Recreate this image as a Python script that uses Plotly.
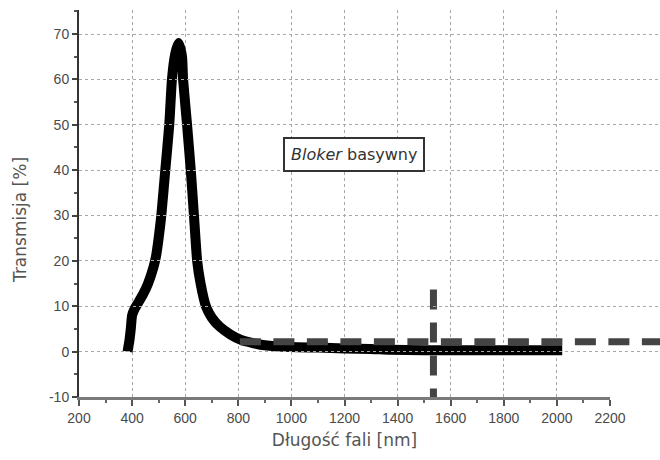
import plotly.graph_objects as go

# Transmission spectrum of the blocker (wavelength in nm, transmission in %)
wavelength = [383, 390, 395, 400, 410, 420, 440, 460, 480, 490, 500, 510, 525,
              540, 550, 562, 575, 588, 592, 607, 621, 633, 645, 658, 678, 700,
              730, 770, 810, 855, 900, 1000, 1100, 1200, 1300, 1370, 1500,
              1700, 1900, 2020]
transmission = [0, 2.5, 5, 8, 9.5, 10.5, 12.5, 15, 18.5, 21, 25, 30, 40,
                50, 60, 65.5, 68, 65, 60, 50, 40, 30, 20, 15, 10, 7.5,
                5.5, 3.8, 2.6, 1.9, 1.4, 1.0, 0.9, 0.7, 0.6, 0.4, 0.3,
                0.3, 0.3, 0.3]

# Reference level drawn as a dashed horizontal line
ref_level_x = [806, 2400]
ref_level_y = [2.2, 2.2]

# Marker of the 1535 nm wavelength
marker_x = [1535, 1535]
marker_y = [13.7, -10.5]

x_ticks = [200, 400, 600, 800, 1000, 1200, 1400, 1600, 1800, 2000, 2200]
y_ticks = [-10, 0, 10, 20, 30, 40, 50, 60, 70]

label_text = "<i>Bloker</i> basywny"
label_pos = (1236, 43.5)

W, H = 660, 460
ML, MR, MT, MB = 79, 0, 10, 63
plot_w = W - ML - MR
plot_h = H - MT - MB
main_w = 531  # pixel width of the 200-2200 nm axis
x_min, x_max = 200, 2200
wide_max = x_min + (x_max - x_min) * plot_w / main_w

ink = "#3a3a3a"
tick_font = dict(family="Liberation Sans, Arial, sans-serif", size=14, color="#4a4a4a")
title_font = dict(family="DejaVu Sans, sans-serif", size=17, color="#555")

fig = go.Figure()

fig.add_trace(go.Scatter(
    x=wavelength, y=transmission, mode="lines",
    line=dict(color="#000000", width=10, shape="spline", smoothing=0.5),
    showlegend=False))

fig.add_trace(go.Scatter(
    x=marker_x, y=marker_y, mode="lines",
    line=dict(color="#444444", width=7, dash="20px,13px"),
    showlegend=False, hoverinfo="skip"))

# wide overlay axis so the reference level runs past the end of the main axis
fig.add_trace(go.Scatter(
    x=ref_level_x, y=ref_level_y, xaxis="x2", yaxis="y",
    mode="lines", line=dict(color="#444444", width=7, dash="21px,12.5px"),
    showlegend=False, hoverinfo="skip"))

fig.update_layout(
    width=W, height=H,
    margin=dict(l=ML, r=MR, t=MT, b=MB, autoexpand=False),
    paper_bgcolor="white", plot_bgcolor="rgba(0,0,0,0)",
    font=dict(family="Liberation Sans, Arial, sans-serif", color=ink),
    xaxis=dict(
        domain=[0, main_w / plot_w], range=[x_min, x_max],
        tickvals=x_ticks, ticktext=[str(v) for v in x_ticks],
        ticks="outside", ticklen=6, tickwidth=2, tickcolor="#555",
        minor=dict(dtick=100, ticks="outside", ticklen=3, tickcolor="#666", showgrid=False),
        showline=True, linecolor="#7a7a7a", linewidth=3,
        showgrid=True, gridcolor="#a8a8a8", gridwidth=1, griddash="dot",
        zeroline=False, tickfont=tick_font, automargin=False,
        title=dict(text="Długość fali [nm]", font=title_font, standoff=10),
    ),
    xaxis2=dict(
        domain=[0, 1], range=[x_min, wide_max], anchor="y",
        visible=False, showgrid=False, zeroline=False,
    ),
    yaxis=dict(
        range=[-10, 75.3], tickvals=y_ticks, ticktext=[str(v) for v in y_ticks],
        ticks="outside", ticklen=5, tickwidth=2, tickcolor="#444",
        minor=dict(dtick=5, ticks="outside", ticklen=3, tickcolor="#555", showgrid=False),
        showline=True, linecolor="#333", linewidth=2,
        showgrid=True, gridcolor="#a8a8a8", gridwidth=1, griddash="dot",
        zeroline=False, tickfont=tick_font, automargin=False,
    ),
    annotations=[
        dict(
            x=label_pos[0], y=label_pos[1], xref="x", yref="y",
            text=label_text, showarrow=False,
            font=dict(family="DejaVu Sans, sans-serif", size=16, color="#333"),
            bordercolor="#333", borderwidth=2, borderpad=6, bgcolor="white",
        ),
        dict(
            x=(20 - ML) / plot_w, y=(H - MB - 220) / plot_h, xref="paper", yref="paper",
            xanchor="center", yanchor="middle",
            text="Transmisja [%]", textangle=-90, showarrow=False,
            font=dict(family="DejaVu Sans, sans-serif", size=17, color="#555"),
        ),
    ],
)

fig.write_html("out.html")
